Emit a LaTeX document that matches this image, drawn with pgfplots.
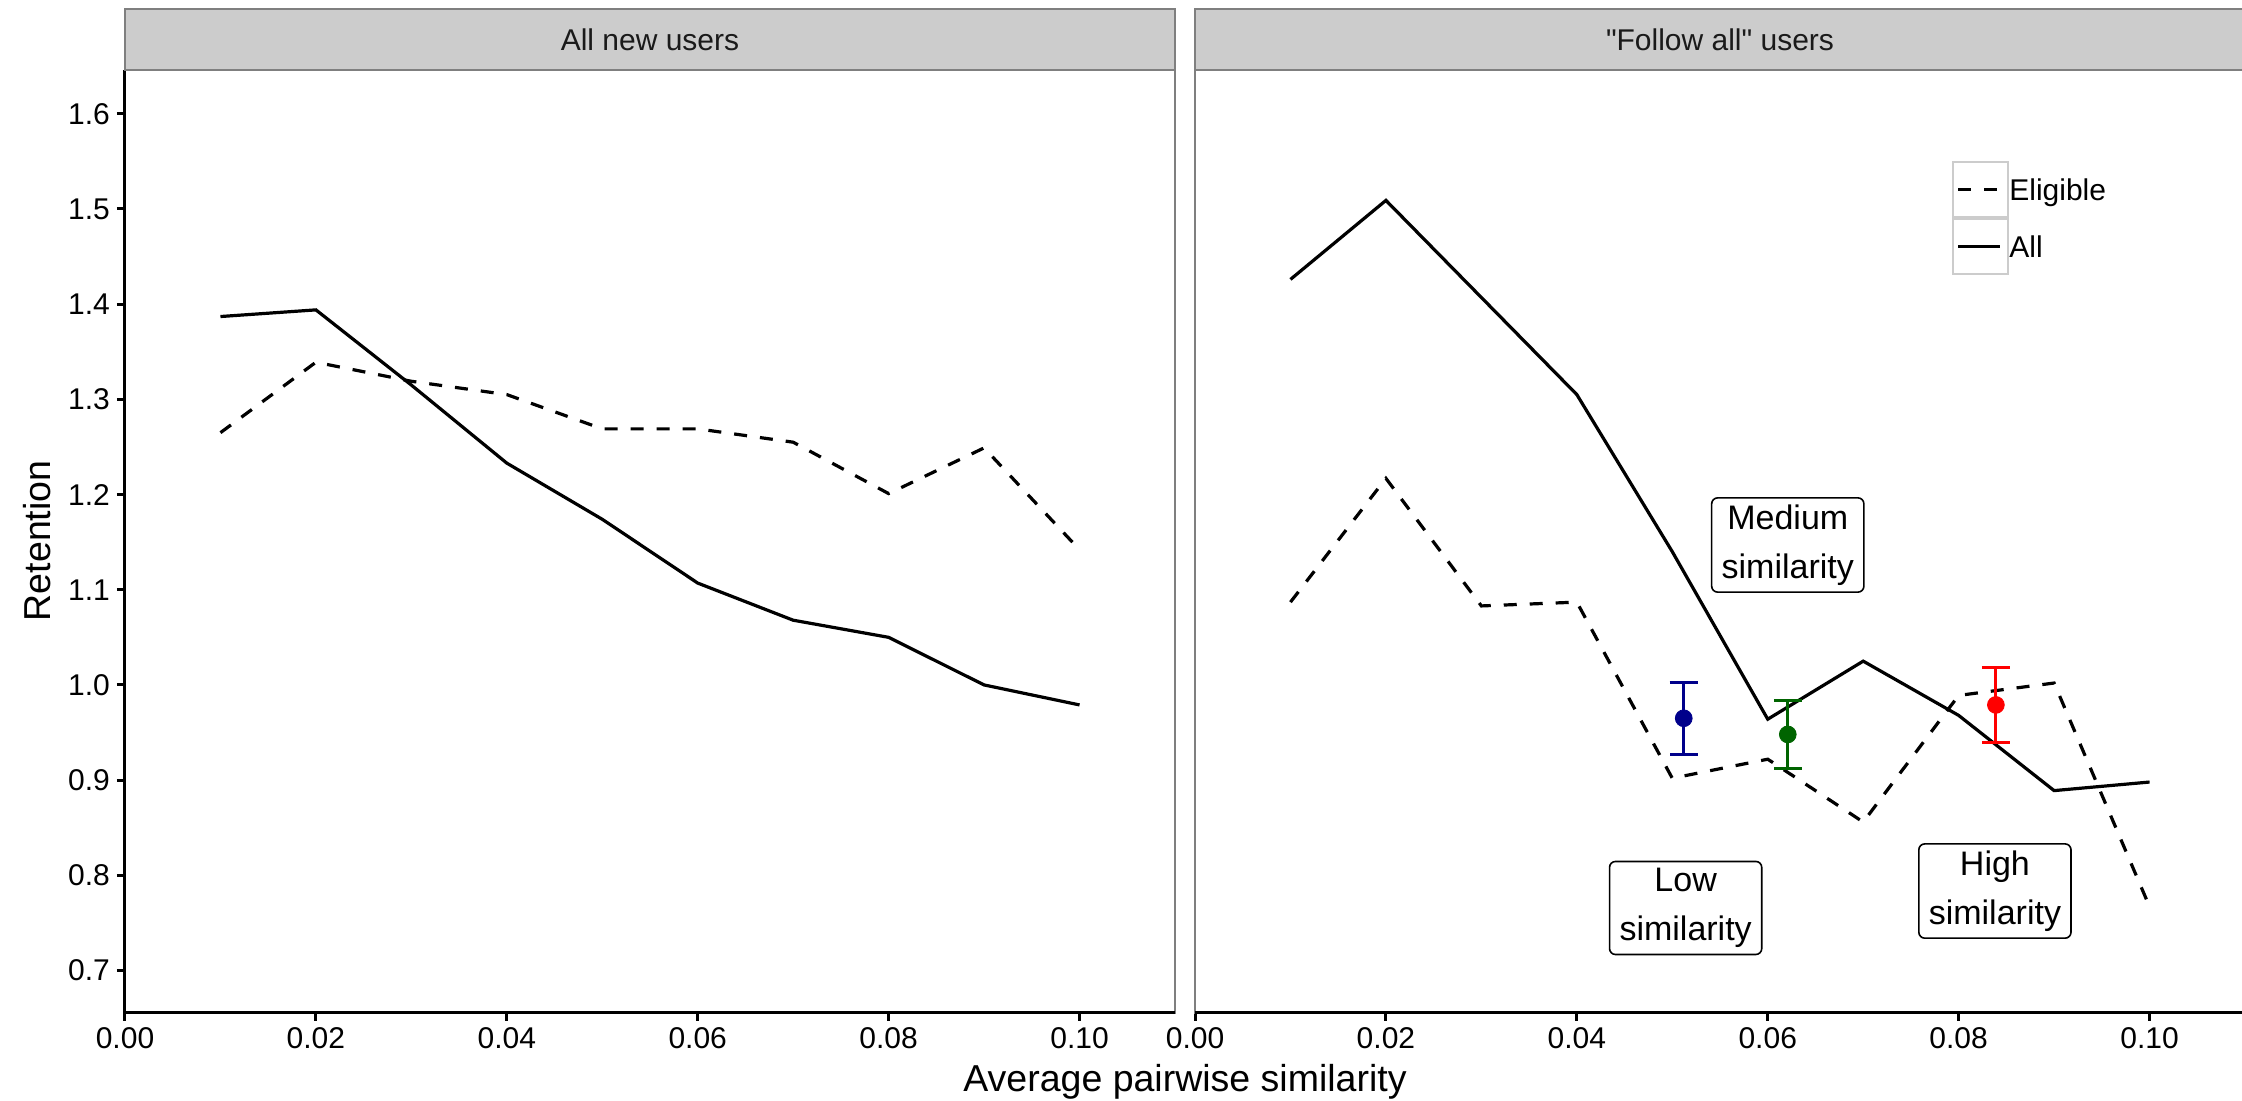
\documentclass[border=0pt]{standalone}
\usepackage{fontspec}
\setmainfont{Liberation Sans}
% same face without the TeX ligature mapping, so " stays a straight quote
\newfontfamily\plainquotes{Liberation Sans}
\usepackage{pgfplots}
\usepackage{pgfplotstable}
\pgfplotsset{compat=1.18}

\definecolor{stripfill}{RGB}{204,204,204}
\definecolor{panelborder}{RGB}{127,127,127}
\definecolor{keybox}{RGB}{204,204,204}
\definecolor{striptext}{RGB}{26,26,26}
\definecolor{lowsim}{RGB}{0,0,139}
\definecolor{medsim}{RGB}{0,100,0}
\definecolor{highsim}{RGB}{255,0,0}

% Retention by average pairwise similarity, all new users
\pgfplotstableread{
x     all    eligible
0.01  1.387  1.265
0.02  1.394  1.339
0.03  1.315  1.319
0.04  1.233  1.305
0.05  1.174  1.269
0.06  1.107  1.269
0.07  1.068  1.255
0.08  1.050  1.201
0.09  1.000  1.249
0.10  0.979  1.142
}\allnew

% Retention by average pairwise similarity, "follow all" users
\pgfplotstableread{
x     all    eligible
0.01  1.426  1.087
0.02  1.509  1.217
0.03  1.407  1.083
0.04  1.305  1.087
0.05  1.140  0.902
0.06  0.964  0.922
0.07  1.025  0.856
0.08  0.968  0.989
0.09  0.889  1.002
0.10  0.898  0.767
}\followall

% Group means with error bars
\pgfplotstableread{
x      y      e
0.0512 0.965  0.038
}\lowgroup
\pgfplotstableread{
x      y      e
0.0621 0.948  0.036
}\medgroup
\pgfplotstableread{
x      y      e
0.0839 0.979  0.039
}\highgroup

\newcommand{\ticksize}{\fontsize{15}{18}\selectfont}
\newcommand{\titlesize}{\fontsize{18.75}{22}\selectfont}
\newcommand{\notesize}{\fontsize{17}{24.3}\selectfont}

\pgfplotsset{
  facet/.style={
    scale only axis,
    width=525pt, height=471.35pt,
    xmin=0, xmax=0.11, ymin=0.6557, ymax=1.646,
    clip=false,
    axis line style={draw=panelborder, line width=1pt},
    xtick={0,0.02,0.04,0.06,0.08,0.1},
    xtick pos=bottom,
    tick align=outside,
    major tick length=4pt,
    every tick/.style={black, line width=1.5pt},
    xticklabel style={font=\ticksize, black,
      /pgf/number format/.cd, fixed, fixed zerofill, precision=2, assume math mode=true},
    yticklabel style={font=\ticksize, black,
      /pgf/number format/.cd, fixed, fixed zerofill, precision=1, assume math mode=true},
  },
  retall/.style={black, line width=1.6pt, solid},
  retelig/.style={black, line width=1.6pt, dash pattern=on 6.5pt off 6.5pt},
  group/.style={only marks, mark=*, mark size=4.2pt, color=#1, forget plot,
    error bars/.cd, y dir=both, y explicit,
    error bar style={line width=1.5pt, #1},
    error mark options={rotate=90, line width=1.5pt, mark size=7pt, #1}},
}

\begin{document}
\begin{tikzpicture}
\useasboundingbox (-62.5pt,-44.15pt) rectangle (1058.5pt,506.35pt);

\begin{axis}[facet, name=left, at={(0pt,0pt)}, anchor=south west,
  ytick={0.7,0.8,0.9,1.0,1.1,1.2,1.3,1.4,1.5,1.6},
  ytick pos=left]
  \addplot[retelig] table[x=x, y=eligible] {\allnew};
  \addplot[retall] table[x=x, y=all] {\allnew};
  \draw[black, line width=1.5pt] (rel axis cs:0,1) -- (rel axis cs:0,0) -- (rel axis cs:1,0);
\end{axis}

\begin{axis}[facet, name=right, at={(535pt,0pt)}, anchor=south west,
  ytick=\empty,
  legend cell align=left,
  legend image code/.code={
    \draw[solid, draw=keybox, line width=1pt, fill=white] (0pt,-13.75pt) rectangle (27.5pt,13.75pt);
    \draw (2.5pt,0pt) -- (23.5pt,0pt);
  },
  legend style={at={(axis cs:0.0793,1.551)}, anchor=north west,
    draw=none, fill=none, inner sep=0pt, row sep=0pt, font=\ticksize,
    nodes={inner sep=0pt, text depth=0pt},
    /tikz/every even column/.append style={column sep=6pt}}]
  \addplot[retelig] table[x=x, y=eligible] {\followall};
  \addplot[retall] table[x=x, y=all] {\followall};
  \legend{Eligible, All}

  \addplot[group=lowsim] table[x=x, y=y, y error=e] {\lowgroup};
  \addplot[group=medsim] table[x=x, y=y, y error=e] {\medgroup};
  \addplot[group=highsim] table[x=x, y=y, y error=e] {\highgroup};

  \node[draw=black, line width=0.8pt, rounded corners=3pt, fill=white, align=center,
        font=\notesize, inner xsep=5pt, inner ysep=3.5pt] at (axis cs:0.0621,1.147) {Medium\\similarity};
  \node[draw=black, line width=0.8pt, rounded corners=3pt, fill=white, align=center,
        font=\notesize, inner xsep=5pt, inner ysep=3.5pt] at (axis cs:0.0514,0.7657) {Low\\similarity};
  \node[draw=black, line width=0.8pt, rounded corners=3pt, fill=white, align=center,
        font=\notesize, inner xsep=5pt, inner ysep=3.5pt] at (axis cs:0.0838,0.7835) {High\\similarity};

  \draw[black, line width=1.5pt] (rel axis cs:0,0) -- (rel axis cs:1,0);
\end{axis}

% facet strips
\draw[panelborder, line width=1pt, fill=stripfill] (left.north west) rectangle ([yshift=30.5pt]left.north east);
\draw[panelborder, line width=1pt, fill=stripfill] (right.north west) rectangle ([yshift=30.5pt]right.north east);
\node[striptext, font=\ticksize] at ([yshift=15.25pt]left.north) {All new users};
\node[striptext, font=\plainquotes\ticksize] at ([yshift=15.25pt]right.north) {"Follow all" users};

% axis titles
\node[anchor=base, font=\titlesize] at (530pt,-39.6pt) {Average pairwise similarity};
\node[rotate=90, font=\titlesize] at (-44pt,235.9pt) {Retention};
\end{tikzpicture}
\end{document}
